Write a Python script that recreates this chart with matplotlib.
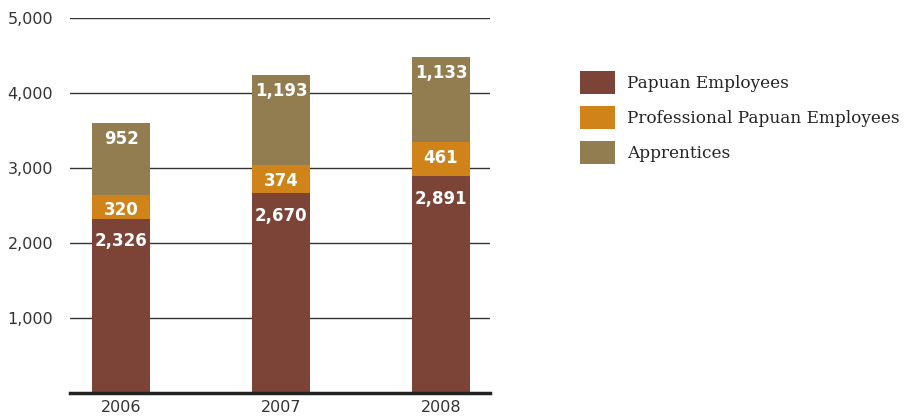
import matplotlib.pyplot as plt
import numpy as np

# Datos
years = ['2006', '2007', '2008']
papuan = [2326, 2670, 2891]
professional = [320, 374, 461]
apprentices = [952, 1193, 1133]
series_names = ['Papuan Employees', 'Professional Papuan Employees', 'Apprentices']
colors = ['#7b4437', '#d08318', '#917d50']

fig = plt.figure(figsize=(9.07, 4.19), dpi=100)
ax = fig.add_axes([70 / 907, 1 - 393 / 419, 420 / 907, 375 / 419])

x = np.arange(len(years))
width = 0.3625
bottoms = np.zeros(len(years))
offsets = [-10, -5, -5]  # desplazamiento de la etiqueta bajo el borde superior
for vals, name, col, off in zip([papuan, professional, apprentices], series_names, colors, offsets):
    ax.bar(x, vals, width, bottom=bottoms, color=col, label=name, zorder=3)
    # Etiquetas blancas dentro de cada segmento, cerca de la parte superior
    for xi, v, bt in zip(x, vals, bottoms):
        ax.annotate(f'{v:,}', (xi, bt + v), xytext=(0, off), textcoords='offset points',
                    ha='center', va='top', color='white', fontsize=12,
                    fontweight='bold', zorder=4)
    bottoms = bottoms + np.array(vals)

ax.set_xlim(-0.319, 2.306)
ax.set_ylim(0, 5000)
ax.set_yticks([1000, 2000, 3000, 4000, 5000])
ax.set_yticklabels(['1,000', '2,000', '3,000', '4,000', '5,000'])
ax.set_xticks(x)
ax.set_xticklabels(years)
ax.tick_params(length=0, labelsize=11.5, colors='#333333')
ax.tick_params(axis='y', pad=12)
ax.tick_params(axis='x', pad=5)
ax.yaxis.grid(True, color='#333333', linewidth=1, zorder=0)
ax.set_axisbelow(True)
for s in ['top', 'right', 'left']:
    ax.spines[s].set_visible(False)
ax.spines['bottom'].set_color('#222222')
ax.spines['bottom'].set_linewidth(2.5)
ax.spines['bottom'].set_zorder(5)

leg = ax.legend(loc='upper left', bbox_to_anchor=(580 / 907, 1 - 71 / 419),
                bbox_transform=fig.transFigure, frameon=False,
                prop={'family': 'DejaVu Serif', 'size': 12.2},
                borderpad=0, borderaxespad=0,
                handlelength=2.05, handleheight=1.7, labelspacing=0.72, handletextpad=0.7)
for t in leg.get_texts():
    t.set_color('#222222')

fig.savefig('out.png', dpi=100)
